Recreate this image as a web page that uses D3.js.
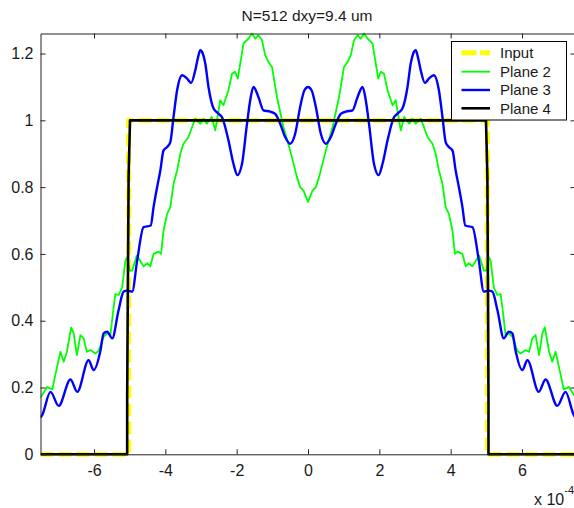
<!DOCTYPE html>
<html>
<head>
<meta charset="utf-8">
<script src="https://cdn.jsdelivr.net/npm/d3@7"></script>
<style>
  html, body { margin: 0; padding: 0; background: #fff; }
  svg { display: block; font-family: "Liberation Sans", Arial, sans-serif; }
</style>
</head>
<body>
<svg id="chart" width="574" height="508"></svg>
<script>
// x values are in units of 1e-4 (axis shows "x 10^-4")
const titleText = "N=512 dxy=9.4 um";
const seriesNames = ["Input", "Plane 2", "Plane 3", "Plane 4"];
const xTicks = [-6, -4, -2, 0, 2, 4, 6];
const xTickLabels = ["-6", "-4", "-2", "0", "2", "4", "6"];
const yTicks = [0, 0.2, 0.4, 0.6, 0.8, 1, 1.2];
const yTickLabels = ["0", "0.2", "0.4", "0.6", "0.8", "1", "1.2"];
const xDomain = [-7.5, 7.5];
const yDomain = [0, 1.26];

const inputData = [[-7.5,0],[-5.03,0],[-5.03,1],[5.03,1],[5.03,0],[7.5,0]];

const plane2Data = [[-7.5,0.17],[-7.31,0.202],[-7.17,0.194],[-7.08,0.24],[-6.94,0.307],[-6.85,0.277],[-6.76,0.307],[-6.64,0.38],[-6.57,0.362],[-6.48,0.297],[-6.38,0.357],[-6.29,0.347],[-6.20,0.307],[-6.10,0.312],[-5.96,0.302],[-5.87,0.31],[-5.73,0.352],[-5.63,0.362],[-5.54,0.357],[-5.45,0.44],[-5.40,0.48],[-5.31,0.477],[-5.21,0.50],[-5.12,0.58],[-5.07,0.59],[-5.00,0.55],[-4.93,0.55],[-4.80,0.595],[-4.61,0.563],[-4.51,0.572],[-4.42,0.563],[-4.33,0.60],[-4.19,0.607],[-4.12,0.60],[-4.05,0.67],[-3.95,0.72],[-3.86,0.74],[-3.77,0.81],[-3.67,0.85],[-3.58,0.90],[-3.49,0.93],[-3.35,0.95],[-3.25,0.98],[-3.16,1.005],[-3.02,0.99],[-2.93,1.005],[-2.84,0.99],[-2.70,1.01],[-2.60,0.97],[-2.46,1.06],[-2.37,1.045],[-2.23,1.09],[-2.13,1.14],[-2.04,1.145],[-1.97,1.125],[-1.90,1.17],[-1.81,1.23],[-1.67,1.245],[-1.57,1.26],[-1.48,1.245],[-1.39,1.255],[-1.29,1.24],[-1.20,1.195],[-1.11,1.175],[-1.01,1.16],[-0.87,1.07],[-0.69,0.98],[-0.50,0.91],[-0.31,0.83],[-0.22,0.80],[-0.13,0.79],[0,0.756],
[0.13,0.79],[0.22,0.80],[0.31,0.83],[0.50,0.91],[0.69,0.98],[0.87,1.07],[1.01,1.16],[1.11,1.175],[1.20,1.195],[1.29,1.24],[1.39,1.255],[1.48,1.245],[1.57,1.26],[1.67,1.245],[1.81,1.23],[1.90,1.17],[1.97,1.125],[2.04,1.145],[2.13,1.14],[2.23,1.09],[2.37,1.045],[2.46,1.06],[2.60,0.97],[2.70,1.01],[2.84,0.99],[2.93,1.005],[3.02,0.99],[3.16,1.005],[3.25,0.98],[3.35,0.95],[3.49,0.93],[3.58,0.90],[3.67,0.85],[3.77,0.81],[3.86,0.74],[3.95,0.72],[4.05,0.67],[4.12,0.60],[4.19,0.607],[4.33,0.60],[4.42,0.563],[4.51,0.572],[4.61,0.563],[4.80,0.595],[4.93,0.55],[5.00,0.55],[5.07,0.59],[5.12,0.58],[5.21,0.50],[5.31,0.477],[5.40,0.48],[5.45,0.44],[5.54,0.357],[5.63,0.362],[5.73,0.352],[5.87,0.31],[5.96,0.302],[6.10,0.312],[6.20,0.307],[6.29,0.347],[6.38,0.357],[6.48,0.297],[6.57,0.362],[6.64,0.38],[6.76,0.307],[6.85,0.277],[6.94,0.307],[7.08,0.24],[7.17,0.194],[7.31,0.202],[7.5,0.17]];

const plane3Data = [[-7.5,0.11],[-7.45,0.118],[-7.22,0.187],[-6.99,0.145],[-6.66,0.224],[-6.47,0.187],[-6.15,0.282],[-6.01,0.252],[-5.82,0.31],[-5.73,0.362],[-5.63,0.367],[-5.49,0.347],[-5.31,0.432],[-5.17,0.487],[-5.07,0.49],[-4.93,0.487],[-4.79,0.58],[-4.61,0.68],[-4.41,0.685],[-4.33,0.74],[-4.23,0.80],[-4.14,0.85],[-4.05,0.91],[-3.95,0.92],[-3.86,0.935],[-3.77,1.01],[-3.67,1.09],[-3.53,1.135],[-3.39,1.125],[-3.28,1.112],[-3.16,1.15],[-3.08,1.19],[-3.02,1.21],[-2.95,1.2],[-2.88,1.17],[-2.79,1.10],[-2.65,1.036],[-2.51,1.02],[-2.41,1.009],[-2.23,0.94],[-2.09,0.87],[-1.98,0.836],[-1.85,0.87],[-1.71,0.99],[-1.62,1.06],[-1.53,1.10],[-1.39,1.07],[-1.25,1.03],[-1.06,1.026],[-0.92,1.019],[-0.78,0.99],[-0.64,0.95],[-0.50,0.93],[-0.36,0.96],[-0.22,1.04],[-0.1,1.09],[0,1.10],
[0.1,1.09],[0.22,1.04],[0.36,0.96],[0.50,0.93],[0.64,0.95],[0.78,0.99],[0.92,1.019],[1.06,1.026],[1.25,1.03],[1.39,1.07],[1.53,1.10],[1.62,1.06],[1.71,0.99],[1.85,0.87],[1.98,0.836],[2.09,0.87],[2.23,0.94],[2.41,1.009],[2.51,1.02],[2.65,1.036],[2.79,1.10],[2.88,1.17],[2.95,1.2],[3.02,1.21],[3.08,1.19],[3.16,1.15],[3.28,1.112],[3.39,1.125],[3.53,1.135],[3.67,1.09],[3.77,1.01],[3.86,0.935],[3.95,0.92],[4.05,0.91],[4.14,0.85],[4.23,0.80],[4.33,0.74],[4.41,0.685],[4.61,0.68],[4.79,0.58],[4.93,0.487],[5.07,0.49],[5.17,0.487],[5.31,0.432],[5.49,0.347],[5.63,0.367],[5.73,0.362],[5.82,0.31],[6.01,0.252],[6.15,0.282],[6.47,0.187],[6.66,0.224],[6.99,0.145],[7.22,0.187],[7.45,0.118],[7.5,0.11]];

const plane4Data = [[-7.5,0],[-5.07,0],[-5.07,0.17],[-5.03,0.83],[-4.99,1],[4.99,1],[5.03,0.83],[5.06,0.17],[5.06,0],[7.5,0]];

const colors = ["#ffff00", "#00ff00", "#0000ff", "#000000"];
const widths = [5, 1.8, 2.4, 2.6];
const dashes = ["13,5", null, null, null];

const svg = d3.select("#chart");
const W = 574, H = 508;
const plot = { left: 40.5, right: 575.5, top: 33.5, bottom: 454.3 };

const x = d3.scaleLinear().domain(xDomain).range([plot.left, plot.right]);
const y = d3.scaleLinear().domain(yDomain).range([plot.bottom, plot.top]);

svg.append("rect").attr("width", W).attr("height", H).attr("fill", "#fff");

svg.append("defs").append("clipPath").attr("id", "clip")
  .append("rect")
  .attr("x", plot.left).attr("y", plot.top - 3)
  .attr("width", plot.right - plot.left).attr("height", plot.bottom - plot.top + 6);

const g = svg.append("g").attr("clip-path", "url(#clip)");
const datasets = [inputData, plane2Data, plane3Data, plane4Data];
const curves = [d3.curveLinear, d3.curveLinear, d3.curveMonotoneX, d3.curveLinear];

datasets.forEach((d, i) => {
  const line = d3.line().x(p => x(p[0])).y(p => y(p[1])).curve(curves[i]);
  const path = g.append("path").datum(d)
    .attr("d", line)
    .attr("fill", "none")
    .attr("stroke", colors[i])
    .attr("stroke-width", widths[i])
    .attr("stroke-linejoin", "round");
  if (dashes[i]) path.attr("stroke-dasharray", dashes[i]);
});

const axisColor = "#222";
const fontSize = "16px";

const gx = svg.append("g").attr("transform", `translate(0,${plot.bottom})`)
  .call(d3.axisBottom(x).tickValues(xTicks).tickSize(-5).tickSizeOuter(0).tickPadding(10)
    .tickFormat((d, i) => xTickLabels[i]));
const gy = svg.append("g").attr("transform", `translate(${plot.left},0)`)
  .call(d3.axisLeft(y).tickValues(yTicks).tickSize(-5).tickSizeOuter(0).tickPadding(7)
    .tickFormat((d, i) => yTickLabels[i]));
const gt = svg.append("g").attr("transform", `translate(0,${plot.top})`)
  .call(d3.axisTop(x).tickValues(xTicks).tickSize(-5).tickSizeOuter(0).tickFormat(""));
const gr = svg.append("g").attr("transform", `translate(${plot.right},0)`)
  .call(d3.axisRight(y).tickValues(yTicks).tickSize(-5).tickSizeOuter(0).tickFormat(""));

[gx, gy, gt, gr].forEach(a => {
  a.selectAll("path").attr("stroke", axisColor).attr("stroke-width", 1);
  a.selectAll("line").attr("stroke", axisColor).attr("stroke-width", 1);
  a.selectAll("text").attr("fill", "#1a1a1a").style("font-size", fontSize)
    .style("font-family", '"Liberation Sans", Arial, sans-serif');
});

// title
svg.append("text").attr("x", 307).attr("y", 21)
  .attr("text-anchor", "middle").attr("fill", "#1a1a1a")
  .style("font-size", "15.5px").text(titleText);

// exponent label
const expo = svg.append("text").attr("x", 534).attr("y", 505).attr("fill", "#1a1a1a").style("font-size", "16px");
expo.append("tspan").text("x 10");
expo.append("tspan").attr("dy", -11).style("font-size", "11px").text("-4");

// legend
const lg = svg.append("g");
lg.append("rect").attr("x", 451.5).attr("y", 41.5).attr("width", 115).attr("height", 78.5)
  .attr("fill", "#fff").attr("stroke", "#000").attr("stroke-width", 1);
const legendY = [52.7, 71.7, 90, 108.3];
seriesNames.forEach((name, i) => {
  const ln = lg.append("line").attr("x1", 461.5).attr("x2", 490).attr("y1", legendY[i]).attr("y2", legendY[i])
    .attr("stroke", colors[i]).attr("stroke-width", widths[i]);
  if (dashes[i]) ln.attr("stroke-dasharray", "15,3.5");
  lg.append("text").attr("x", 500).attr("y", legendY[i]).attr("dy", "0.36em")
    .attr("fill", "#1a1a1a").style("font-size", "15px").text(name);
});
</script>
</body>
</html>
